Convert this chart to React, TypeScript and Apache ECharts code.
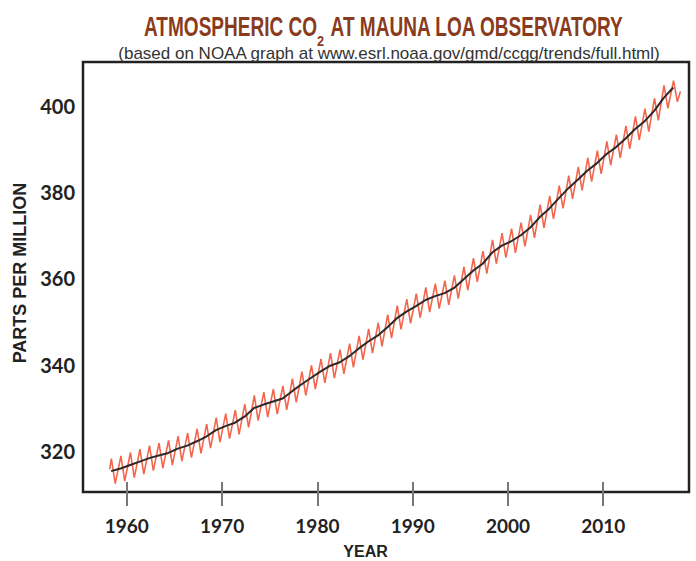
import React, { useEffect, useRef } from "react";
import * as echarts from "echarts";

// ---- data ----
const firstYear = 1958;
// deseasonalized trend, one value per year (1958..2017)
const trendPpm = [
  315.4, 316.0, 316.8, 317.6, 318.4, 319.0, 319.6, 320.6, 321.3, 322.3,
  323.4, 324.9, 325.8, 326.6, 328.0, 330.0, 330.8, 331.5, 332.2, 333.9,
  335.5, 337.0, 338.5, 339.8, 340.6, 342.0, 343.8, 345.4, 346.8, 348.7,
  350.8, 352.3, 353.6, 355.0, 355.9, 356.6, 357.8, 359.8, 361.8, 363.4,
  366.0, 367.6, 368.6, 370.0, 371.8, 374.2, 376.2, 378.6, 380.9, 382.9,
  385.0, 386.7, 388.8, 390.4, 392.4, 394.6, 396.4, 398.8, 401.8, 404.2,
];
// seasonal maxima (around May) per year
const peakPpm = [
  318.3, 318.9, 319.7, 320.5, 321.3, 321.9, 322.5, 323.5, 324.2, 325.2,
  326.3, 327.8, 328.7, 329.5, 330.9, 332.9, 333.7, 334.4, 335.1, 336.8,
  338.4, 339.9, 341.4, 342.7, 343.5, 344.9, 346.7, 348.3, 349.7, 351.6,
  353.7, 355.2, 356.5, 357.9, 358.8, 359.5, 360.7, 362.7, 364.7, 366.3,
  368.9, 370.5, 371.5, 372.9, 374.7, 377.1, 379.1, 381.5, 383.8, 385.8,
  387.9, 389.6, 391.7, 393.3, 395.3, 397.5, 399.3, 401.7, 404.7, 405.8,
];
// seasonal minima (around October) per year
const troughPpm = [
  312.5, 313.1, 313.9, 314.7, 315.5, 316.1, 316.8, 317.7, 318.5, 319.5,
  320.7, 322.1, 322.9, 323.9, 325.5, 327.1, 327.9, 328.6, 329.6, 331.3,
  332.9, 334.4, 335.8, 336.9, 337.9, 339.4, 341.2, 342.7, 344.3, 346.2,
  348.2, 349.6, 350.9, 352.2, 353.0, 353.9, 355.3, 357.3, 359.2, 361.1,
  363.4, 364.8, 365.9, 367.4, 369.4, 371.7, 373.8, 376.2, 378.4, 380.4,
  382.4, 384.2, 386.2, 387.9, 390.0, 392.0, 394.0, 396.6, 399.4, 400.9,
];
const monthlyStart: [number, number] = [1958.2, 315.8];
const monthlyEnd: [number, number] = [2018.1, 403.3];

const xTickYears = [1960, 1970, 1980, 1990, 2000, 2010];
const yTickPpm = [320, 340, 360, 380, 400];

const titleLeft = "ATMOSPHERIC CO";
const titleSub = "2";
const titleRight = " AT MAUNA LOA OBSERVATORY";
const subtitle = "(based on NOAA graph at www.esrl.noaa.gov/gmd/ccgg/trends/full.html)";
const xName = "YEAR";
const yName = "PARTS PER MILLION";

export default function App() {
  const ref = useRef<HTMLDivElement>(null);

  useEffect(() => {
    if (!ref.current) return;
    const chart = echarts.init(ref.current, undefined, { renderer: "svg" });

    const monthly: [number, number][] = [monthlyStart];
    peakPpm.forEach((p, i) => {
      monthly.push([firstYear + i + 0.38, p]);
      monthly.push([firstYear + i + 0.78, troughPpm[i]]);
    });
    monthly.push(monthlyEnd);
    const trend: [number, number][] = trendPpm.map((v, i) => [firstYear + i + 0.35, v]);

    const xMin = 1955.4;
    const xMax = 2019.0;
    const labelFont = {
      fontFamily: "Lato",
      fontWeight: "bold" as const,
      fontSize: 19,
      color: "#222",
      formatter: (v: number) => String(v),
    };

    chart.setOption({
      animation: false,
      backgroundColor: "#fff",
      grid: {
        left: 83,
        right: 7,
        top: 62,
        bottom: 69,
        show: true,
        borderColor: "#222",
        borderWidth: 2.5,
        backgroundColor: "transparent",
      },
      xAxis: [
        {
          type: "value",
          min: xMin,
          max: xMax,
          position: "bottom",
          axisLine: { show: false },
          splitLine: { show: false },
          axisTick: {
            show: true,
            customValues: xTickYears,
            length: 14,
            lineStyle: { color: "#777", width: 2 },
          },
          axisLabel: { ...labelFont, customValues: xTickYears, margin: 24 },
        },
        {
          type: "value",
          min: xMin,
          max: xMax,
          position: "bottom",
          axisLine: { show: false },
          splitLine: { show: false },
          axisTick: {
            show: true,
            inside: true,
            customValues: xTickYears,
            length: 10,
            lineStyle: { color: "#777", width: 2 },
          },
          axisLabel: { show: false },
        },
      ],
      yAxis: {
        type: "value",
        min: 310.56,
        max: 410.1,
        axisLine: { show: false },
        axisTick: { show: false },
        splitLine: { show: false },
        axisLabel: { ...labelFont, fontSize: 20, customValues: yTickPpm, margin: 8 },
      },
      series: [
        {
          type: "line",
          data: monthly,
          showSymbol: false,
          lineStyle: { color: "#f04b2e", width: 1.6, opacity: 0.85 },
          z: 2,
        },
        {
          type: "line",
          data: trend,
          showSymbol: false,
          lineStyle: { color: "#2a2a2a", width: 2 },
          z: 3,
        },
      ],
      graphic: [
        {
          type: "text",
          x: 144,
          y: 26,
          scaleX: 0.68,
          style: {
            text: titleLeft,
            fontFamily: "Liberation Sans",
            fontWeight: "bold",
            fontSize: 28,
            fill: "#8a3b1c",
            textAlign: "left",
            textVerticalAlign: "middle",
            verticalAlign: "middle",
          },
        },
        {
          type: "text",
          x: 317,
          y: 40.7,
          scaleX: 0.85,
          style: {
            text: titleSub,
            fontFamily: "Liberation Sans",
            fontWeight: "bold",
            fontSize: 15,
            fill: "#8a3b1c",
            textAlign: "left",
            textVerticalAlign: "middle",
            verticalAlign: "middle",
          },
        },
        {
          type: "text",
          x: 326,
          y: 26,
          scaleX: 0.68,
          style: {
            text: titleRight,
            fontFamily: "Liberation Sans",
            fontWeight: "bold",
            fontSize: 28,
            fill: "#8a3b1c",
            textAlign: "left",
            textVerticalAlign: "middle",
            verticalAlign: "middle",
          },
        },
        {
          type: "text",
          x: 389,
          y: 53,
          style: {
            text: subtitle,
            fontFamily: "Liberation Sans",
            fontSize: 17,
            fill: "#333",
            textAlign: "center",
            textVerticalAlign: "middle",
            verticalAlign: "middle",
          },
        },
        {
          type: "text",
          x: 365.5,
          y: 551,
          style: {
            text: xName,
            fontFamily: "Liberation Sans",
            fontWeight: "bold",
            fontSize: 16,
            fill: "#222",
            textAlign: "center",
            textVerticalAlign: "middle",
            verticalAlign: "middle",
          },
        },
        {
          type: "text",
          x: 20,
          y: 273,
          rotation: Math.PI / 2,
          style: {
            text: yName,
            fontFamily: "Liberation Sans",
            fontWeight: "bold",
            fontSize: 18,
            fill: "#222",
            textAlign: "center",
            textVerticalAlign: "middle",
            verticalAlign: "middle",
          },
        },
      ],
    });

    return () => chart.dispose();
  }, []);

  return (
    <div
      ref={ref}
      style={{ position: "fixed", left: 0, top: 0, width: 696, height: 561 }}
    />
  );
}
